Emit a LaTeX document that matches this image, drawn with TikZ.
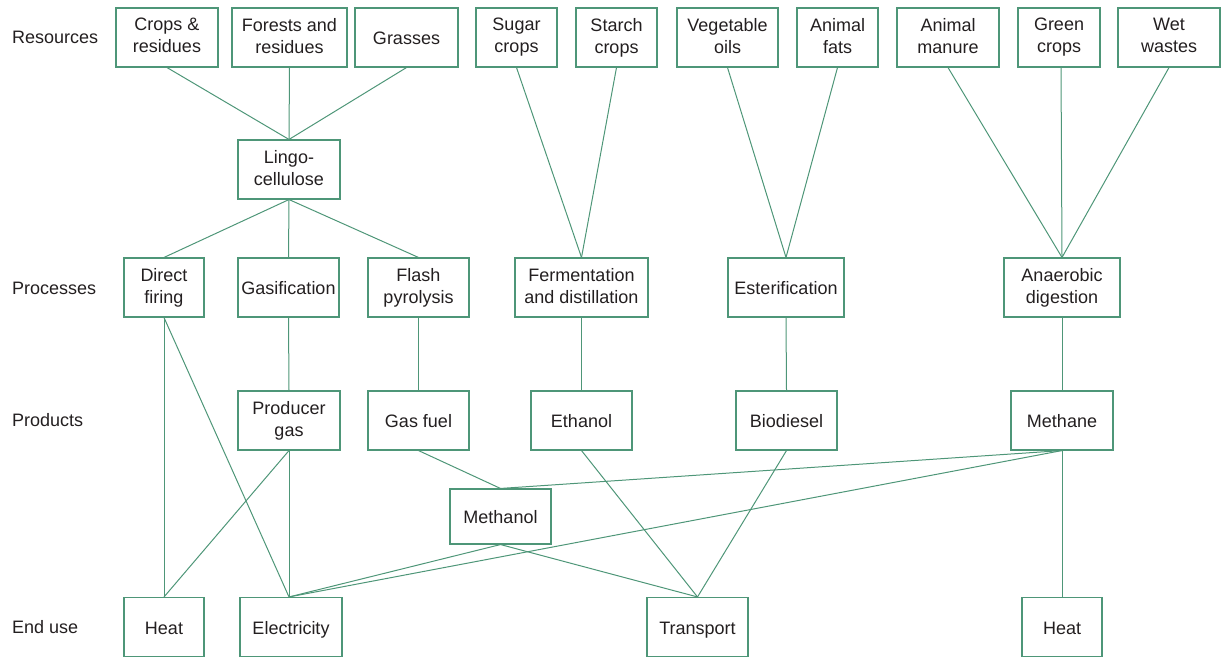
\documentclass[tikz,border=0pt]{standalone}
\usepackage{fontspec}
\setmainfont{Liberation Sans}
\usepackage{tikz}
\usetikzlibrary{calc}
\definecolor{linegreen}{RGB}{78,150,120}
\definecolor{textgray}{RGB}{35,31,32}
\newcommand{\boxstrut}{\rule[-3.6pt]{0pt}{22pt}}

\begin{document}
\begin{tikzpicture}[
        x=1pt, y=-1pt, % 像素坐标
        font=\fontsize{18}{22}\selectfont,
        text=textgray,
        box/.style={draw=linegreen, line width=1.1pt, align=center,
            minimum height=59pt, inner sep=1pt,
            execute at begin node=\boxstrut, execute at end node=\boxstrut},
        rowlabel/.style={anchor=west},
        link/.style={draw=linegreen, line width=1pt},
    ]
    \useasboundingbox (0,0) rectangle (1228,658);

    % 左侧分类标签
    \node[rowlabel] (lres)  at (8.5,37)  {Resources};
    \node[rowlabel] (lproc) at (8.5,288) {Processes};
    \node[rowlabel] (lprod) at (8.5,420) {Products};
    \node[rowlabel] (luse)  at (8.5,627) {End use};

    % 原料
    \node[box, minimum width=102pt] (crops)  at (167,37.5)    {Crops \&\\residues};
    \node[box, minimum width=115pt] (forest) at (289.5,37.5)  {Forests and\\residues};
    \node[box, minimum width=103pt] (grass)  at (406.5,37.5)  {Grasses};
    \node[box, minimum width=81pt]  (sugar)  at (516.5,37.5)  {Sugar\\crops};
    \node[box, minimum width=81pt]  (starch) at (616.5,37.5)  {Starch\\crops};
    \node[box, minimum width=101pt] (vegoil) at (727.5,37.5)  {Vegetable\\oils};
    \node[box, minimum width=81pt]  (fats)   at (837.5,37.5)  {Animal\\fats};
    \node[box, minimum width=102pt] (manure) at (948,37.5)    {Animal\\manure};
    \node[box, minimum width=82pt]  (green)  at (1059,37.5)   {Green\\crops};
    \node[box, minimum width=102pt] (wet)    at (1169,37.5)   {Wet\\wastes};

    \node[box, minimum width=102pt] (lingo)  at (289,169.5)   {Lingo-\\cellulose};

    % 工艺
    \node[box, minimum width=80pt]  (direct) at (164,287.5)   {Direct\\firing};
    \node[box, minimum width=101pt] (gasif)  at (288.5,287.5) {Gasification};
    \node[box, minimum width=101pt] (flash)  at (418.5,287.5) {Flash\\pyrolysis};
    \node[box, minimum width=133pt] (ferm)   at (581.5,287.5) {Fermentation\\and distillation};
    \node[box, minimum width=116pt] (ester)  at (786,287.5)   {Esterification};
    \node[box, minimum width=116pt] (anaer)  at (1062,287.5)  {Anaerobic\\digestion};

    % 产品
    \node[box, minimum width=102pt] (prodgas)   at (289,420.5)   {Producer\\gas};
    \node[box, minimum width=101pt] (gasfuel)   at (418.5,420.5) {Gas fuel};
    \node[box, minimum width=101pt] (ethanol)   at (581.5,420.5) {Ethanol};
    \node[box, minimum width=101pt] (biodiesel) at (786.5,420.5) {Biodiesel};
    \node[box, minimum width=102pt] (methane)   at (1062,420.5)  {Methane};
    \node[box, minimum width=101pt, minimum height=55pt] (methanol) at (500.5,516.5) {Methanol};

    % 终端用途
    \node[box, minimum width=80pt]  (heatA)     at (164,627)   {Heat};
    \node[box, minimum width=102pt] (elec)      at (291,627)   {Electricity};
    \node[box, minimum width=101pt] (transport) at (697.5,627) {Transport};
    \node[box, minimum width=80pt]  (heatB)     at (1062,627)  {Heat};

    % 连线
    \foreach \a in {crops,forest,grass} \draw[link] (\a.south) -- (lingo.north);
    \foreach \b in {direct,gasif,flash} \draw[link] (lingo.south) -- (\b.north);
    \foreach \a in {sugar,starch} \draw[link] (\a.south) -- (ferm.north);
    \foreach \a in {vegoil,fats} \draw[link] (\a.south) -- (ester.north);
    \foreach \a in {manure,wet} \draw[link] (\a.south) -- (anaer.north);
    \draw[link] ($(green.south)+(2,0)$) -- (anaer.north);

    \draw[link] (gasif.south) -- (prodgas.north);
    \draw[link] (flash.south) -- (gasfuel.north);
    \draw[link] (ferm.south) -- (ethanol.north);
    \draw[link] (ester.south) -- (biodiesel.north);
    \draw[link] (anaer.south) -- (methane.north);

    \draw[link] (direct.south) -- (heatA.north);
    \draw[link] (direct.south) -- ($(elec.north)+(-2,0)$);
    \draw[link] (prodgas.south) -- (heatA.north);
    \draw[link] (prodgas.south) -- ($(elec.north)+(-2,0)$);
    \draw[link] (gasfuel.south) -- (methanol.north);
    \draw[link] (methane.south) -- (methanol.north);
    \draw[link] (methane.south) -- ($(elec.north)+(-2,0)$);
    \draw[link] (methane.south) -- (heatB.north);
    \draw[link] (methanol.south) -- ($(elec.north)+(-2,0)$);
    \draw[link] (methanol.south) -- (transport.north);
    \draw[link] (ethanol.south) -- (transport.north);
    \draw[link] (biodiesel.south) -- (transport.north);
\end{tikzpicture}
\end{document}
